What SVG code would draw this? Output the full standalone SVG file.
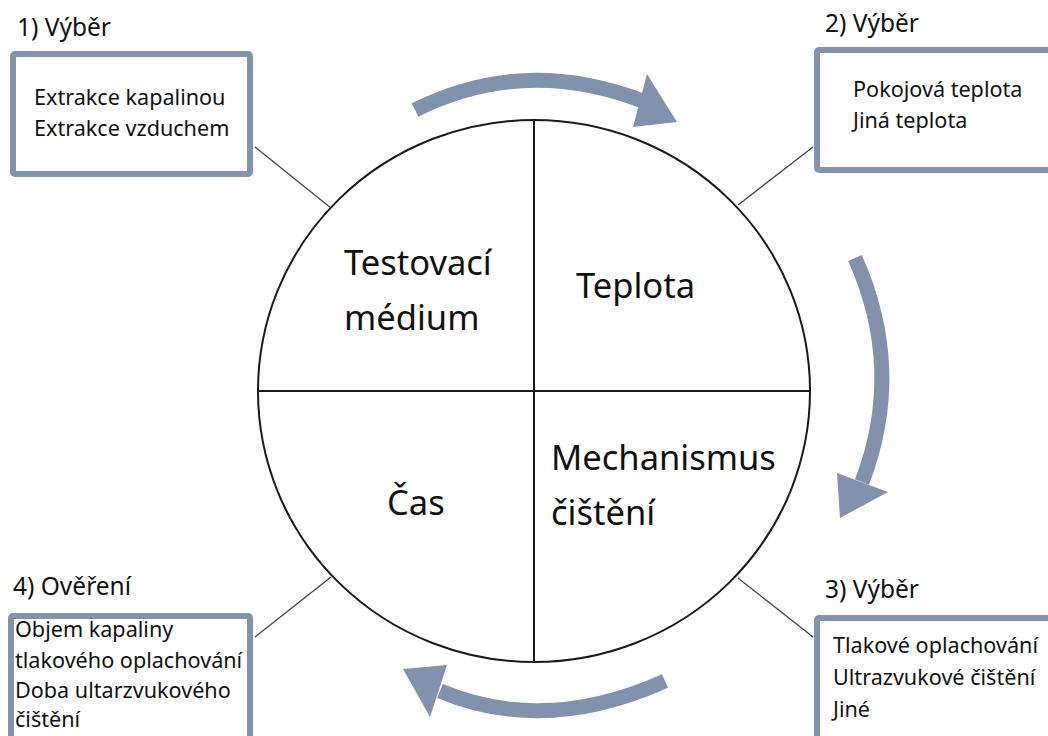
<svg xmlns="http://www.w3.org/2000/svg" width="1048" height="736" viewBox="0 0 1048 736">
<style>
.box{fill:#fff;stroke:#8193ad;stroke-width:6}
.t{font-family:"Noto Sans","Open Sans",sans-serif;font-size:21.6px;fill:#111}
.h{font-family:"Noto Sans","Open Sans",sans-serif;font-size:24.5px;fill:#111}
.big{font-family:"Noto Sans","Open Sans",sans-serif;font-size:34.5px;fill:#111}
.conn{stroke:#444;stroke-width:1.3;fill:none}
.band{stroke:#8092ad;stroke-width:15;fill:none}
.head{fill:#8092ad}
</style>
<rect width="1048" height="736" fill="#fff"/>
<g id="connectors">
<line class="conn" x1="255" y1="147" x2="331" y2="208"/>
<line class="conn" x1="813" y1="147" x2="738" y2="205"/>
<line class="conn" x1="813" y1="637" x2="738" y2="578"/>
<line class="conn" x1="255" y1="637" x2="331" y2="577"/>
</g>
<g id="arrows">
<path class="band" d="M 415 110 Q 525 55 645 102"/>
<polygon class="head" points="647,74 677,122 633,127"/>
<path class="band" d="M 855 258 Q 905 370 862 482"/>
<polygon class="head" points="837,473 888,492 840,518"/>
<path class="band" d="M 665 681 Q 545 735 440 691"/>
<polygon class="head" points="447,665 430,717 403,669"/>
</g>
<g id="circle">
<ellipse cx="534" cy="391" rx="276" ry="271" fill="#fff" stroke="#1a1a1a" stroke-width="2"/>
<line x1="534" y1="120" x2="534" y2="662" stroke="#1a1a1a" stroke-width="2"/>
<line x1="258" y1="391" x2="810" y2="391" stroke="#1a1a1a" stroke-width="2"/>
</g>
<g id="q1"><text class="big" x="344" y="275">Testovací</text><text class="big" x="344" y="330">médium</text></g>
<g id="q2"><text class="big" x="576" y="298">Teplota</text></g>
<g id="q3"><text class="big" x="551" y="470">Mechanismus</text><text class="big" x="551" y="525">čištění</text></g>
<g id="q4"><text class="big" x="387" y="515">Čas</text></g>
<g id="box1">
<text class="h" x="17" y="36">1) Výběr</text>
<rect class="box" x="13" y="54" width="237" height="120" rx="2"/>
<text class="t" x="34" y="105">Extrakce kapalinou</text>
<text class="t" x="34" y="136">Extrakce vzduchem</text>
</g>
<g id="box2">
<text class="h" x="825" y="32">2) Výběr</text>
<rect class="box" x="817" y="50" width="240" height="120" rx="2"/>
<text class="t" x="853" y="97">Pokojová teplota</text>
<text class="t" x="853" y="128">Jiná teplota</text>
</g>
<g id="box3">
<text class="h" x="825" y="598">3) Výběr</text>
<rect class="box" x="817" y="618" width="240" height="130" rx="2"/>
<text class="t" x="833" y="653">Tlakové oplachování</text>
<text class="t" x="833" y="685">Ultrazvukové čištění</text>
<text class="t" x="833" y="717">Jiné</text>
</g>
<g id="box4">
<text class="h" x="13" y="595">4) Ověření</text>
<rect class="box" x="11" y="616" width="239" height="130" rx="2"/>
<text class="t" x="15" y="637">Objem kapaliny</text>
<text class="t" x="15" y="668">tlakového oplachování</text>
<text class="t" x="15" y="698">Doba ultarzvukového</text>
<text class="t" x="15" y="727">čištění</text>
</g>
</svg>
